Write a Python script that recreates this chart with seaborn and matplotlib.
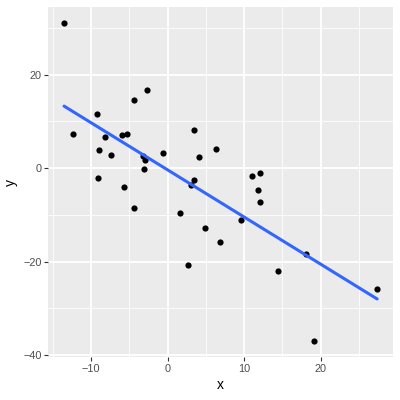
import matplotlib
matplotlib.use('Agg')
import matplotlib.pyplot as plt
from matplotlib.ticker import MultipleLocator
import numpy as np
import pandas as pd
import seaborn as sns

# Values
x_vals = [-13.55, -12.42, -9.24, -8.93, -9.15, -8.20, -7.41, -6.01, -5.27, -5.75,
          -4.40, -2.75, -3.22, -2.92, -3.05, -0.61, 3.44, 4.09, 3.44, 3.05,
          6.36, 11.07, 12.03, 11.80, -4.44, 1.57, 2.61, 4.88, 6.89, 9.54,
          12.03, 14.47, 18.08, 19.13, 27.40]
y_vals = [31.0, 7.38, 11.5, 3.84, -2.13, 6.6, 2.69, 7.1, 7.25, -4.13,
          14.6, 16.6, 2.62, 1.7, -0.2, 3.2, 8.23, 2.47, -2.5, -3.7,
          4.12, -1.78, -1.07, -4.7, -8.6, -9.68, -20.8, -12.9, -15.8, -11.2,
          -7.3, -22.0, -18.3, -37.0, -25.9]

df = pd.DataFrame({'x': x_vals, 'y': y_vals})

# ggplot2-like look
sns.set_style('darkgrid', rc={
    'axes.facecolor': '#EBEBEB',
    'grid.color': 'white',
    'axes.edgecolor': 'none',
    'xtick.bottom': True,
    'ytick.left': True,
    'xtick.color': '#333333',
    'ytick.color': '#333333',
})
plt.rcParams['font.family'] = ['Liberation Sans', 'DejaVu Sans']

fig = plt.figure(figsize=(4, 4), dpi=100)
ax = fig.add_axes([0.121, 0.1075, 0.861, 0.8745])

sns.regplot(x='x', y='y', data=df, ax=ax, ci=None,
            scatter_kws=dict(color='black', s=20, linewidths=0, alpha=1),
            line_kws=dict(color='#3366FF', lw=2.2))

# 5% expansion like ggplot
xr = max(x_vals) - min(x_vals)
yr = max(y_vals) - min(y_vals)
ax.set_xlim(min(x_vals) - 0.05 * xr, max(x_vals) + 0.05 * xr)
ax.set_ylim(min(y_vals) - 0.05 * yr, max(y_vals) + 0.05 * yr)

ax.xaxis.set_major_locator(MultipleLocator(10))
ax.xaxis.set_minor_locator(MultipleLocator(5))
ax.yaxis.set_major_locator(MultipleLocator(20))
ax.yaxis.set_minor_locator(MultipleLocator(10))
ax.grid(which='major', color='white', lw=1.3)
ax.grid(which='minor', color='white', lw=0.6)
ax.tick_params(which='major', length=3, width=0.8, colors='#333333',
               labelcolor='#4D4D4D', labelsize=7.8, pad=2)
ax.tick_params(which='minor', length=0)
for s in ax.spines.values():
    s.set_visible(False)

ax.set_xlabel('x', fontsize=10, color='black', labelpad=3)
ax.set_ylabel('y', fontsize=10, color='black', labelpad=4)

fig.savefig('out.png', dpi=100)
